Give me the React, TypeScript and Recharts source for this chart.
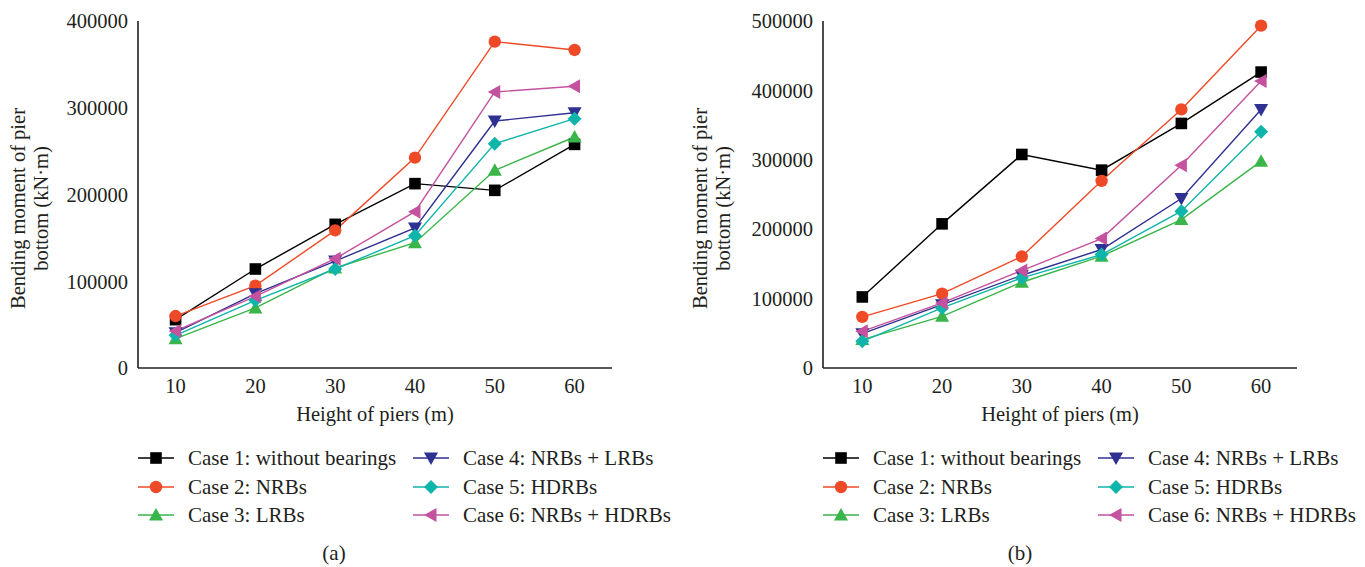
import React from 'react';
import { LineChart, Line, XAxis, YAxis } from 'recharts';

const FONT = '"Liberation Serif", "Times New Roman", serif';
const INK = '#231f20';

const heights = [10, 20, 30, 40, 50, 60];
const xTicks = [10, 20, 30, 40, 50, 60];
const yTicksA = [0, 100000, 200000, 300000, 400000];
const yTicksB = [0, 100000, 200000, 300000, 400000, 500000];

const seriesNames = [
  'Case 1: without bearings',
  'Case 2: NRBs',
  'Case 3: LRBs',
  'Case 4: NRBs + LRBs',
  'Case 5: HDRBs',
  'Case 6: NRBs + HDRBs',
];
const seriesColors = ['#000000', '#ef4a27', '#39b54a', '#2e3192', '#0fb5aa', '#c4529e'];
const seriesShapes = ['square', 'circle', 'up', 'down', 'diamond', 'left'];

// Panel (a)
const a1 = [55700, 114100, 165600, 212500, 204800, 257800];
const a2 = [59900, 94900, 158700, 242500, 376200, 366600];
const a3 = [33800, 69200, 115300, 144500, 227900, 266300];
const a4 = [40700, 85700, 123300, 161400, 284700, 294300];
const a5 = [37700, 78000, 114100, 152500, 258600, 287400];
const a6 = [42700, 82600, 126000, 180200, 318200, 324700];

// Panel (b)
const b1 = [102400, 207700, 307700, 285100, 352400, 426400];
const b2 = [73600, 107200, 160600, 269700, 372600, 493300];
const b3 = [40900, 74500, 123600, 161100, 213900, 298000];
const b4 = [49500, 91300, 133700, 170700, 244200, 372600];
const b5 = [38500, 86500, 129800, 163500, 226000, 340400];
const b6 = [52900, 93800, 140400, 186500, 292300, 413500];

const buildRows = (cols: number[][]) =>
  heights.map((h, i) => {
    const row: Record<string, number> = { h };
    cols.forEach((c, k) => {
      row['c' + (k + 1)] = c[i];
    });
    return row;
  });

const dataA = buildRows([a1, a2, a3, a4, a5, a6]);
const dataB = buildRows([b1, b2, b3, b4, b5, b6]);

function markerPath(shape: string, cx: number, cy: number): string {
  switch (shape) {
    case 'square': {
      const s = 5.8;
      return `M${cx - s},${cy - s}H${cx + s}V${cy + s}H${cx - s}Z`;
    }
    case 'up':
      return `M${cx},${cy - 7}L${cx + 7},${cy + 5.5}L${cx - 7},${cy + 5.5}Z`;
    case 'down':
      return `M${cx - 7},${cy - 5.5}L${cx + 7},${cy - 5.5}L${cx},${cy + 7}Z`;
    case 'left':
      return `M${cx - 7},${cy}L${cx + 5.5},${cy - 7}L${cx + 5.5},${cy + 7}Z`;
    case 'diamond':
      return `M${cx},${cy - 7}L${cx + 7},${cy}L${cx},${cy + 7}L${cx - 7},${cy}Z`;
    default:
      return '';
  }
}

function Marker({ shape, color, cx, cy }: { shape: string; color: string; cx: number; cy: number }) {
  if (shape === 'circle') return <circle cx={cx} cy={cy} r={6.2} fill={color} stroke="none" />;
  return <path d={markerPath(shape, cx, cy)} fill={color} stroke="none" />;
}

const makeDot = (k: number) => (props: any) => {
  const { cx, cy, index } = props;
  if (cx == null || cy == null) return <g key={`d${k}-${index}`} />;
  return (
    <g key={`d${k}-${index}`}>
      <Marker shape={seriesShapes[k]} color={seriesColors[k]} cx={cx} cy={cy} />
    </g>
  );
};

const YLabel = (props: any) => {
  const { viewBox } = props;
  const cy = viewBox.y + viewBox.height / 2 + 14;
  const lines = ['Bending moment of pier', 'bottom (kN·m)'];
  const xs = [18, 41];
  return (
    <g>
      {lines.map((t, i) => (
        <text
          key={i}
          x={xs[i]}
          y={cy}
          transform={`rotate(-90 ${xs[i]} ${cy})`}
          textAnchor="middle"
          dominantBaseline="central"
          fontFamily={FONT}
          fontSize={20.5}
          fill={INK}
        >
          {t}
        </text>
      ))}
    </g>
  );
};

const XLabel = (props: any) => {
  const { viewBox } = props;
  return (
    <text
      x={viewBox.x + viewBox.width / 2}
      y={viewBox.y + 53}
      textAnchor="middle"
      fontFamily={FONT}
      fontSize={20.5}
      fill={INK}
    >
      Height of piers (m)
    </text>
  );
};

function Panel({
  data,
  yTicks,
  yMax,
  left,
  width,
  yAxisWidth,
  rightMargin,
  xDomain,
}: {
  data: any[];
  yTicks: number[];
  yMax: number;
  left: number;
  width: number;
  yAxisWidth: number;
  rightMargin: number;
  xDomain: [number, number];
}) {
  const tickStyle = { fontFamily: FONT, fontSize: 20.5, fill: INK };
  return (
    <div style={{ position: 'absolute', left, top: 0 }}>
      <LineChart
        width={width}
        height={567}
        data={data}
        margin={{ top: 21, right: rightMargin, bottom: 139, left: 0 }}
      >
        <XAxis
          dataKey="h"
          type="number"
          domain={xDomain}
          ticks={xTicks}
          allowDataOverflow
          height={60}
          tickLine={false}
          tickSize={6}
          tickMargin={4}
          axisLine={{ stroke: INK, strokeWidth: 1.6 }}
          tick={tickStyle}
          label={<XLabel />}
        />
        <YAxis
          type="number"
          domain={[0, yMax]}
          ticks={yTicks}
          width={yAxisWidth}
          tickLine={false}
          tickSize={6}
          tickMargin={4}
          axisLine={{ stroke: INK, strokeWidth: 1.6 }}
          tick={tickStyle}
          label={<YLabel />}
        />
        {seriesNames.map((name, k) => (
          <Line
            key={name}
            name={name}
            dataKey={'c' + (k + 1)}
            stroke={seriesColors[k]}
            strokeWidth={1.4}
            dot={makeDot(k)}
            activeDot={false}
            isAnimationActive={false}
          />
        ))}
      </LineChart>
    </div>
  );
}

function LegendBlock({ left, caption, captionX }: { left: number; caption: string; captionX: number }) {
  return (
    <div
      style={{
        position: 'absolute',
        left,
        top: 444,
        width: 560,
        height: 125,
        fontFamily: FONT,
        fontSize: 21,
        color: INK,
      }}
    >
      {seriesNames.map((name, i) => {
        const col = Math.floor(i / 3);
        const row = i % 3;
        return (
          <div
            key={name}
            style={{
              position: 'absolute',
              left: col * 275,
              top: row * 28.5,
              height: 28,
              display: 'flex',
              alignItems: 'center',
              whiteSpace: 'nowrap',
            }}
          >
            <svg width={36} height={20} style={{ display: 'block' }}>
              <line x1={0} x2={36} y1={10} y2={10} stroke={seriesColors[i]} strokeWidth={1.4} />
              <Marker shape={seriesShapes[i]} color={seriesColors[i]} cx={18} cy={10} />
            </svg>
            <span style={{ marginLeft: 14, lineHeight: '28px' }}>{name}</span>
          </div>
        );
      })}
      <div
        style={{
          position: 'absolute',
          left: captionX,
          top: 97,
          transform: 'translateX(-50%)',
          lineHeight: '24px',
        }}
      >
        {caption}
      </div>
    </div>
  );
}

export default function App() {
  return (
    <div
      style={{
        position: 'absolute',
        left: 0,
        top: 0,
        width: 1365,
        height: 567,
        background: '#ffffff',
        overflow: 'hidden',
        fontFamily: FONT,
      }}
    >
      <Panel
        data={dataA}
        yTicks={yTicksA}
        yMax={400000}
        left={0}
        width={682}
        yAxisWidth={138}
        rightMargin={70}
        xDomain={[5.29, 64.69]}
      />
      <Panel
        data={dataB}
        yTicks={yTicksB}
        yMax={500000}
        left={682}
        width={683}
        yAxisWidth={141}
        rightMargin={68}
        xDomain={[5.07, 64.5]}
      />
      <LegendBlock left={138} caption="(a)" captionX={196} />
      <LegendBlock left={823} caption="(b)" captionX={197} />
    </div>
  );
}
